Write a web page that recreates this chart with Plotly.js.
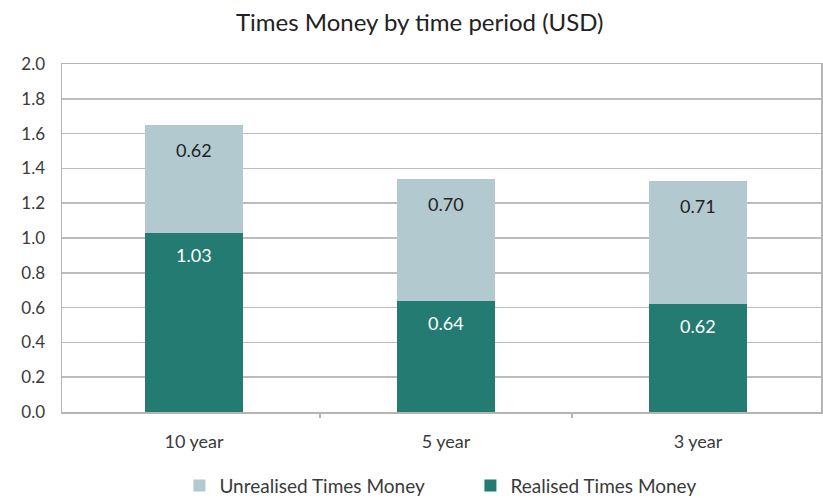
<!DOCTYPE html>
<html><head><meta charset="utf-8">
<script src="https://cdn.plot.ly/plotly-3.0.1.min.js"></script>
<style>html,body{margin:0;padding:0;background:#fff}#chart{width:823px;height:498px}</style>
</head><body><div id="chart"></div>
<script>
const categories = ["10 year", "5 year", "3 year"];
const realised = [1.03, 0.64, 0.62];
const unrealised = [0.62, 0.70, 0.71];
const realisedName = "Realised Times Money";
const unrealisedName = "Unrealised Times Money";
const titleText = "Times Money by time period (USD)";

const FONT = "Lato, 'Open Sans', sans-serif";
const cReal = "#237b72";
const cUnreal = "#b1c9cf";
const xRange = [-0.524, 2.488];

const traces = [
  {type: "bar", name: realisedName, x: categories, y: realised, marker: {color: cReal}, hoverinfo: "none"},
  {type: "bar", name: unrealisedName, x: categories, y: unrealised, marker: {color: cUnreal}, hoverinfo: "none"},
  {type: "scatter", x: [], y: [], xaxis: "x2", yaxis: "y", showlegend: false, hoverinfo: "none"}
];

const annotations = [];
categories.forEach((c, i) => {
  annotations.push({x: c, y: realised[i], xref: "x", yref: "y", text: realised[i].toFixed(2), showarrow: false,
    yanchor: "middle", yshift: -22, font: {family: FONT, size: 18, color: "#ffffff"}});
  annotations.push({x: c, y: realised[i] + unrealised[i], xref: "x", yref: "y", text: unrealised[i].toFixed(2), showarrow: false,
    yanchor: "middle", yshift: -25, font: {family: FONT, size: 18, color: "#222222"}});
});

const layout = {
  width: 823, height: 498,
  margin: {l: 62, r: 2, t: 64, b: 86},
  paper_bgcolor: "#ffffff", plot_bgcolor: "#ffffff",
  font: {family: FONT, color: "#3a3a3a"},
  title: {text: titleText, font: {family: FONT, size: 24, color: "#222222"}, xref: "container", x: 0.51, xanchor: "center", y: 0.955, yanchor: "middle"},
  barmode: "stack",
  bargap: 0.61,
  showlegend: true,
  legend: {orientation: "h", x: 0.218, xref: "container", xanchor: "left", y: 0.025, yref: "container", yanchor: "middle",
    traceorder: "reversed", font: {family: FONT, size: 19, color: "#3a3a3a"}, entrywidth: 246, entrywidthmode: "pixels"},
  xaxis: {type: "category", range: xRange, ticks: "",
    showline: true, linecolor: "#b5b5b5", linewidth: 1.5, mirror: true, showgrid: false,
    tickfont: {family: FONT, size: 18, color: "#3a3a3a"}, ticklabelstandoff: 13, fixedrange: true},
  xaxis2: {overlaying: "x", side: "bottom", type: "linear", range: xRange, tickmode: "array", tickvals: [0.5, 1.5],
    ticks: "outside", ticklen: 5, tickwidth: 1.5, tickcolor: "#b5b5b5", showticklabels: false, showgrid: false,
    showline: false, zeroline: false, fixedrange: true},
  yaxis: {range: [0, 2.0], dtick: 0.2, tickformat: ".1f", showgrid: true, gridcolor: "#bdbdbd", gridwidth: 1.5,
    showline: true, linecolor: "#b5b5b5", linewidth: 1.5, mirror: true, zeroline: false, ticks: "",
    tickfont: {family: FONT, size: 17, color: "#3a3a3a"}, ticklabelstandoff: 12, fixedrange: true},
  annotations: annotations
};

Plotly.newPlot("chart", traces, layout, {displayModeBar: false, staticPlot: true});
</script></body></html>
